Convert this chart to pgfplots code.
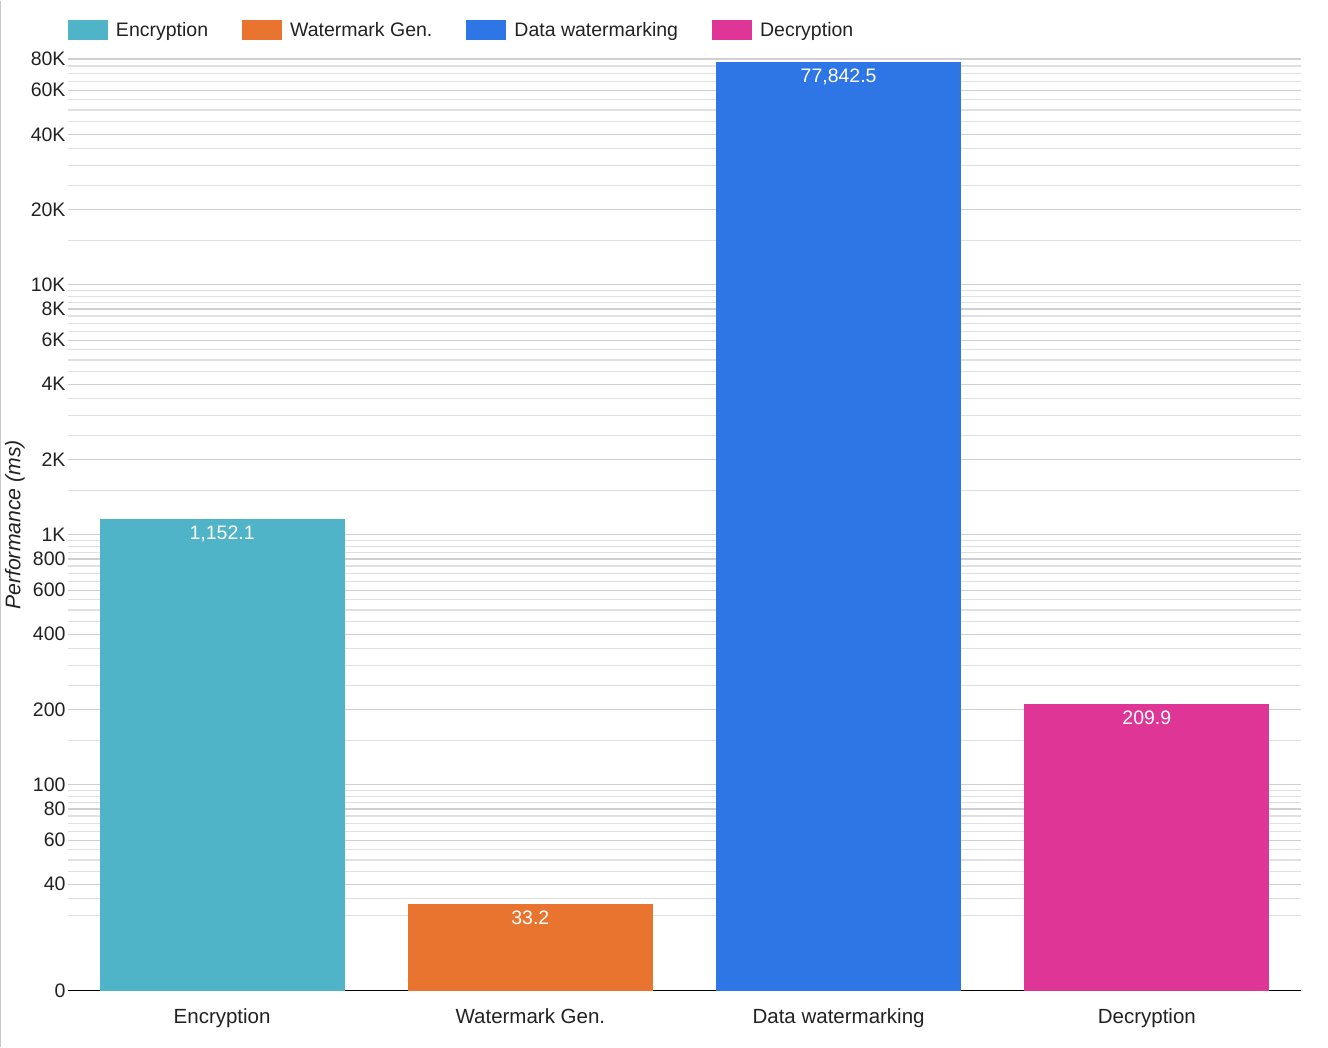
\documentclass[border=0pt]{standalone}
\usepackage{fontspec}
\setmainfont{Liberation Sans}
\usepackage{pgfplots}
\pgfplotsset{compat=1.18}
\definecolor{cEnc}{RGB}{79,180,200}
\definecolor{cWat}{RGB}{232,116,47}
\definecolor{cDat}{RGB}{46,117,230}
\definecolor{cDec}{RGB}{222,53,150}
\definecolor{gmaj}{RGB}{208,208,208}
\definecolor{gmin}{RGB}{224,224,224}
\definecolor{txt}{RGB}{34,34,34}
\newcommand{\ff}{\fontsize{19.5}{23}\selectfont}
\newcommand{\fx}{\fontsize{20.5}{24}\selectfont}
\newcommand{\fy}{\fontsize{21.2}{25}\selectfont}
\begin{document}
\begin{tikzpicture}[x=1pt,y=1pt]
\begin{axis}[
  at={(0,0)}, anchor=south west,
  scale only axis, width=1233pt, height=931.7pt,
  ymode=log, ymin=15, ymax=80000, log origin y=infty,
  xmin=-0.5, xmax=3.5,
  ybar, bar width=245pt,
  legend image code/.code={\fill[#1,draw=none] (0pt,-10pt) rectangle (40pt,10pt); \path (46pt,0pt);},
  xtick={0,1,2,3},
  xticklabels={Encryption, Watermark Gen., Data watermarking, Decryption},
  ytick={15,40,60,80,100,200,400,600,800,1000,2000,4000,6000,8000,10000,20000,40000,60000,80000},
  yticklabels={0,40,60,80,100,200,400,600,800,1K,2K,4K,6K,8K,10K,20K,40K,60K,80K},
  minor ytick={30,35,45,50,55,65,70,75,85,90,95,
    150,250,300,350,450,500,550,650,700,750,850,900,950,
    1500,2500,3000,3500,4500,5000,5500,6500,7000,7500,8500,9000,9500,
    15000,25000,30000,35000,45000,50000,55000,65000,70000,75000},
  ymajorgrids, yminorgrids,
  major grid style={draw=gmaj, line width=1.3pt},
  minor grid style={draw=gmin, line width=1.3pt},
  major tick length=0pt, minor tick length=0pt,
  axis x line*=bottom, axis y line*=left,
  y axis line style={draw=none},
  x axis line style={draw=black, line width=1.3pt, -},
  tick label style={font=\ff, text=txt},
  xticklabel style={font=\fx, yshift=-14pt},
  yticklabel style={xshift=1pt},
  /pgf/number format/assume math mode=true,
  every axis y label/.style={at={(axis description cs:0,0.5)}, xshift=-53pt, anchor=center, rotate=90},
  ylabel={\itshape Performance (ms)},
  label style={font=\fy, text=txt},
  legend columns=4,
  legend cell align=left,
  legend style={at={(axis description cs:0,1)}, anchor=west, yshift=29.3pt,
    draw=none, fill=none, inner sep=0pt, outer sep=0pt, font=\ff, text=txt,
    /tikz/every even column/.append style={column sep=32pt}},
  nodes near coords,
  point meta=explicit symbolic,
  every node near coord/.append style={anchor=north, yshift=-3pt, text=white, font=\ff},
]
\addplot[bar shift=0pt, fill=cEnc, draw=none] coordinates {(0,1152.1) [1,152.1]};
\addlegendentry{Encryption}
\addplot[bar shift=0pt, fill=cWat, draw=none] coordinates {(1,33.2) [33.2]};
\addlegendentry{Watermark Gen.}
\addplot[bar shift=0pt, fill=cDat, draw=none] coordinates {(2,77842.5) [77,842.5]};
\addlegendentry{Data watermarking}
\addplot[bar shift=0pt, fill=cDec, draw=none] coordinates {(3,209.9) [209.9]};
\addlegendentry{Decryption}
\end{axis}
\draw[draw={rgb,255:red,200;green,200;blue,200}, line width=1.5pt] (-67.25,-56) -- (-67.25,990);
\path[use as bounding box] (-68,-56) rectangle (1260,990);
\end{tikzpicture}
\end{document}
